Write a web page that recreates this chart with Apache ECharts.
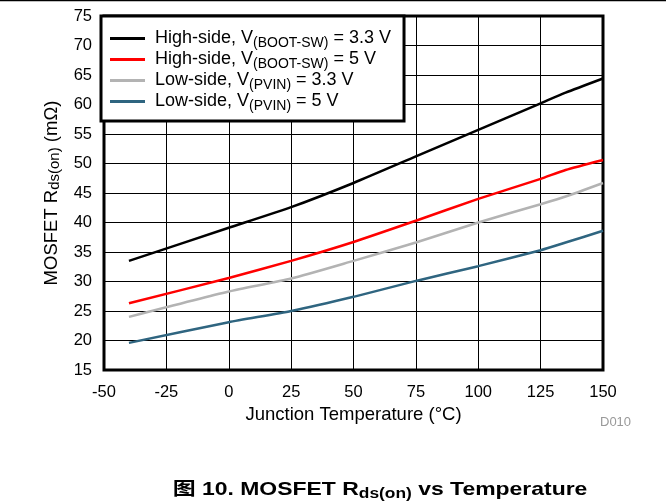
<!DOCTYPE html>
<html><head><meta charset="utf-8">
<script src="https://cdn.jsdelivr.net/npm/echarts@6/dist/echarts.min.js"></script>
<style>html,body{margin:0;padding:0;background:#fff}#c{width:666px;height:501px}</style>
</head><body><div id="c"></div>
<script>
const temps = [-40, 0, 25, 50, 75, 100, 125, 135, 150];
const highSide33 = [33.5, 39.1, 42.6, 46.7, 51.2, 55.7, 60.2, 62.0, 64.4];
const highSide5 = [26.3, 30.6, 33.5, 36.7, 40.3, 44.0, 47.4, 48.9, 50.6];
const lowSide33 = [24.0, 28.3, 30.5, 33.5, 36.6, 40.0, 43.1, 44.4, 46.7];
const lowSide5 = [19.6, 23.1, 25.0, 27.4, 30.1, 32.6, 35.3, 36.6, 38.6];
const xTicks = [-50, -25, 0, 25, 50, 75, 100, 125, 150];
const yTicks = [15, 20, 25, 30, 35, 40, 45, 50, 55, 60, 65, 70, 75];
const seriesNames = [
  'High-side, V{s|(BOOT-SW)} = 3.3 V',
  'High-side, V{s|(BOOT-SW)} = 5 V',
  'Low-side, V{s|(PVIN)} = 3.3 V',
  'Low-side, V{s|(PVIN)} = 5 V'
];
const seriesColors = ['#000000', '#ff0000', '#b3b3b3', '#2f6580'];
const seriesData = [highSide33, highSide5, lowSide33, lowSide5];

const font = '"Liberation Sans", Arial, sans-serif';
const chart = echarts.init(document.getElementById('c'), null, {renderer: 'canvas'});
const series = seriesData.map((arr, i) => ({
  name: seriesNames[i],
  type: 'line',
  data: temps.map((t, j) => [t, arr[j]]),
  showSymbol: false,
  symbol: 'none',
  smooth: 0.2,
  lineStyle: {color: seriesColors[i], width: 2.5},
  itemStyle: {color: seriesColors[i]},
  z: 3
}));
// frame
series.push({
  type: 'line', data: [], silent: true,
  markArea: {silent: true, itemStyle: {color: 'transparent', borderColor: '#000', borderWidth: 3},
    data: [[{xAxis: xTicks[0], yAxis: yTicks[0]}, {xAxis: xTicks[xTicks.length-1], yAxis: yTicks[yTicks.length-1]}]]}
});
chart.setOption({
  animation: false,
  backgroundColor: '#fff',
  grid: {left: 104, right: 63, top: 16, bottom: 131, containLabel: false},
  xAxis: {
    type: 'value', min: -50, max: 150, interval: 25,
    name: 'Junction Temperature (°C)', nameLocation: 'middle', nameGap: 30,
    nameTextStyle: {fontFamily: font, fontSize: 18.5, color: '#000'},
    axisLine: {show: false}, axisTick: {show: false},
    axisLabel: {fontFamily: font, fontSize: 16.5, color: '#000', margin: 14},
    splitLine: {show: true, lineStyle: {color: '#000', width: 1}}
  },
  yAxis: {
    type: 'value', min: 15, max: 75, interval: 5,
    name: 'MOSFET R{s|ds(on)} (mΩ)', nameLocation: 'middle', nameGap: 40,
    nameTextStyle: {fontFamily: font, fontSize: 18.5, color: '#000',
      rich: {s: {fontFamily: font, fontSize: 15, color: '#000', verticalAlign: 'bottom', padding: [7, 0, 0, 0]}}},
    axisLine: {show: false}, axisTick: {show: false},
    axisLabel: {fontFamily: font, fontSize: 16.5, color: '#000', margin: 12},
    splitLine: {show: true, lineStyle: {color: '#000', width: 1}}
  },
  legend: {
    left: 101, top: 16, orient: 'vertical',
    data: seriesNames.map(n => ({name: n, icon: 'rect'})),
    itemWidth: 35, itemHeight: 3, itemGap: -2,
    backgroundColor: '#fff', borderColor: '#000', borderWidth: 3,
    padding: [11, 13, 8, 9],
    textStyle: {fontFamily: font, fontSize: 18, color: '#000', padding: [0, 0, 0, 5], lineHeight: 21,
      rich: {s: {fontFamily: font, fontSize: 14, color: '#000', lineHeight: 12, padding: [9, 0, 0, 0]}}},
    z: 10
  },
  graphic: [
    {type: 'line', shape: {x1: 0, y1: 0.5, x2: 666, y2: 0.5}, style: {stroke: '#000', lineWidth: 1.5}},
    {type: 'text', left: 600, top: 416, style: {text: 'D010', fontFamily: font, fontSize: 13, fill: '#999'}},
    {type: 'text', x: 380, y: 490, scaleX: 1.24, style: {
      align: 'center', verticalAlign: 'middle',
      rich: {
        b: {fontFamily: '"Liberation Sans", "Noto Sans CJK SC", sans-serif', fontSize: 18.5, fontWeight: 'bold', fill: '#000'},
        s: {fontFamily: font, fontSize: 14, fontWeight: 'bold', fill: '#000', padding: [9, 0, 0, 0]}
      },
      text: '{b|图 10. MOSFET R}{s|ds(on)}{b| vs Temperature}'
    }}
  ],
  series: series
});
</script></body></html>
